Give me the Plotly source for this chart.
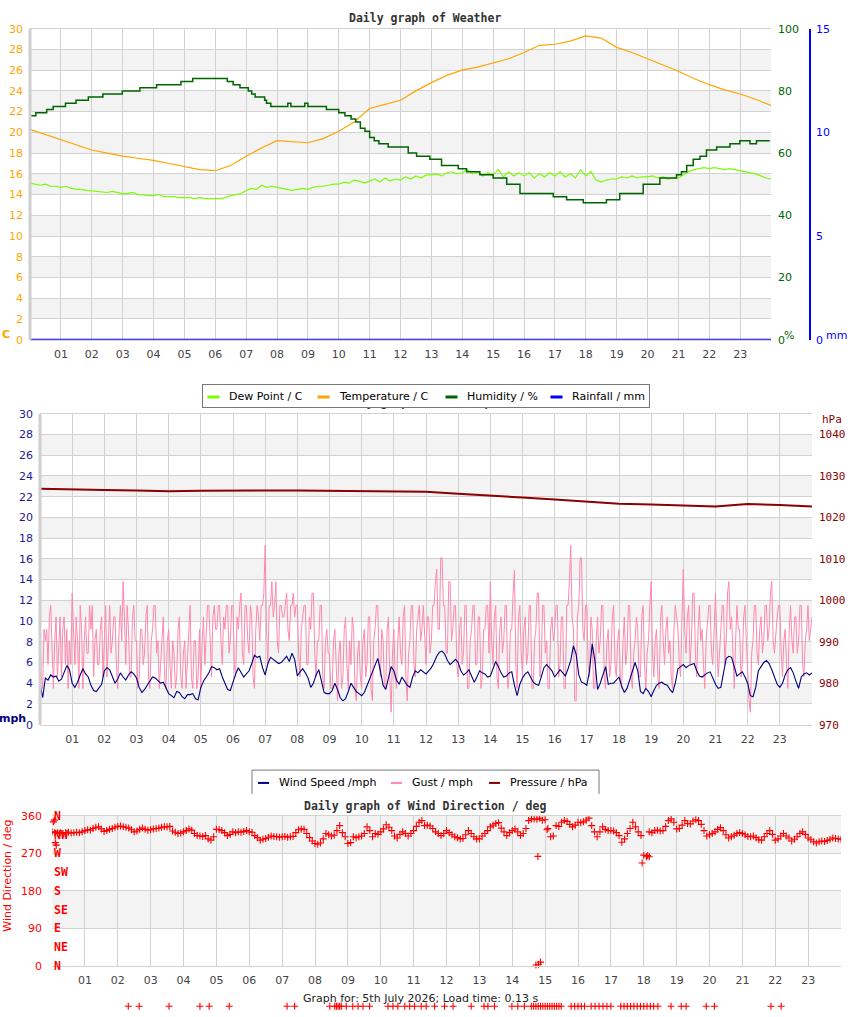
import plotly.graph_objects as go
import numpy as np

W, H = 850, 1017


def px(x):
    return x / W


def py(y):
    return 1 - y / H


# ------------------------------------------------------------------ data
hour_labels = ["%02d" % h for h in range(1, 24)]

# temperature / C, every 30 min from 00:00
temp_c = [20.3, 19.8, 19.3, 18.8, 18.3, 18.0, 17.7, 17.5, 17.3, 17.0, 16.7, 16.4,
          16.3, 16.8, 17.7, 18.5, 19.2, 19.1, 19.0, 19.4, 20.1, 21.0, 22.3, 22.7,
          23.1, 24.0, 24.8, 25.5, 26.0, 26.3, 26.7, 27.1, 27.7, 28.4, 28.5, 28.8,
          29.3, 29.1, 28.2, 27.7, 27.1, 26.5, 25.9, 25.2, 24.6, 24.1, 23.7, 23.2, 22.6]

# dew point / C, every 10 min
dew_c = [15.1, 15.0, 14.9, 15.0, 14.8, 14.8,
         14.7, 14.8, 14.6, 14.5, 14.5, 14.4,
         14.35, 14.3, 14.3, 14.2, 14.3, 14.2,
         14.1, 14.1, 14.2, 14.0, 14.0, 13.9,
         13.9, 14.0, 13.8, 13.8, 13.8, 13.7,
         13.7, 13.7, 13.6, 13.7, 13.6, 13.6,
         13.6, 13.6, 13.7, 13.9, 14.0, 14.1,
         14.4, 14.6, 14.5, 14.9, 14.7, 14.8,
         14.7, 14.6, 14.5, 14.4, 14.5, 14.6,
         14.5, 14.7, 14.8, 14.8, 14.9, 15.0,
         15.0, 15.2, 15.1, 15.4, 15.3, 15.1,
         15.3, 15.5, 15.2, 15.6, 15.3, 15.5,
         15.4, 15.7, 15.5, 15.8, 15.6, 15.9,
         15.9, 16.0, 15.8, 16.1, 16.2, 16.0,
         16.1, 16.4, 16.0, 16.2, 15.8, 16.1,
         15.9, 16.4, 15.7, 16.2, 15.8, 16.1,
         15.8, 16.1, 15.6, 16.0, 15.7, 16.1,
         15.8, 16.2, 15.7, 16.0, 15.6, 16.4,
         15.8, 16.2, 15.4, 15.2, 15.4, 15.5,
         15.5, 15.7, 15.6, 15.8, 15.6, 15.7,
         15.7, 15.8, 15.6, 15.7, 15.5, 15.6,
         15.6, 15.9, 16.2, 16.4, 16.5, 16.6,
         16.5, 16.6, 16.5, 16.4, 16.5, 16.4,
         16.3, 16.2, 16.1, 16.0, 15.8, 15.6,
         15.5]

# humidity / %, step changes
hum_hours = [0, 0.19, 0.54, 0.75, 1.15, 1.49, 1.89, 2.36, 2.99, 3.56,
             4.10, 4.89, 5.27, 6.39, 6.58, 6.80, 7.07, 7.18, 7.29, 7.60,
             7.66, 7.80, 8.35, 8.45, 8.90, 9.00, 9.60, 10.00, 10.20, 10.40,
             10.55, 10.70, 10.85, 11.00, 11.15, 11.30, 11.60, 12.25, 12.52, 12.95,
             13.33, 13.87, 14.14, 14.57, 15.00, 15.44, 15.87, 16.95, 17.38, 17.92,
             18.67, 19.10, 19.86, 20.40, 20.94, 21.10, 21.27, 21.48, 21.70, 21.91,
             22.24, 22.67, 22.99, 23.32, 23.53, 23.96]
hum_pct = [72, 73, 74, 75, 76, 77, 78, 79, 80, 81,
           82, 83, 84, 83, 82, 81, 80, 79, 78, 77,
           76, 75, 76, 75, 76, 75, 74, 73, 72, 71,
           70, 68, 67, 65, 64, 63, 62, 60, 59, 58,
           56, 55, 54, 53, 52, 50, 47, 46, 45, 44,
           45, 47, 50, 52, 53, 54, 56, 58, 59, 61,
           62, 63, 64, 63, 64, 64]

# rainfall / mm, hourly
rain_mm = [0.0, 0.0, 0.0, 0.0, 0.0, 0.0, 0.0, 0.0, 0.0, 0.0, 0.0, 0.0, 0.0,
           0.0, 0.0, 0.0, 0.0, 0.0, 0.0, 0.0, 0.0, 0.0, 0.0, 0.0, 0.0]

# wind speed / mph, every 5 min
wind_mph = [4.0, 2.6, 4.5, 4.3, 4.8, 4.6, 4.7, 4.2, 4.4, 5.0, 5.7, 5.3,
            4.0, 3.6, 4.1, 4.8, 5.4, 4.9, 4.6, 3.8, 3.3, 3.2, 3.5, 3.9,
            5.2, 5.5, 5.3, 4.6, 4.0, 4.4, 5.0, 4.6, 4.3, 4.8, 5.1, 4.9,
            4.5, 3.6, 3.1, 3.4, 3.8, 4.3, 4.6, 4.5, 4.2, 4.0, 4.1, 3.5,
            3.0, 2.8, 2.6, 3.2, 3.1, 2.7, 2.5, 2.9, 2.9, 3.0, 2.5, 2.4,
            3.6, 4.2, 4.6, 5.0, 5.6, 5.5, 5.3, 5.4, 4.6, 4.0, 3.4, 3.3,
            4.2, 4.9, 5.5, 5.0, 4.6, 4.9, 5.2, 5.9, 6.7, 6.5, 6.6, 5.5,
            4.8, 5.9, 6.5, 6.3, 6.1, 5.9, 6.0, 6.3, 6.6, 6.1, 6.9, 6.3,
            4.7, 5.1, 5.4, 5.0, 4.5, 3.6, 4.0, 4.8, 5.3, 4.2, 3.1, 3.0,
            3.0, 3.3, 4.0, 3.4, 2.6, 2.3, 2.5, 3.2, 4.0, 3.6, 3.2, 3.0,
            2.8, 3.1, 3.8, 4.5, 5.0, 5.8, 6.4, 5.2, 3.8, 3.4, 4.4, 5.6,
            5.2, 4.3, 3.9, 4.6, 4.2, 3.8, 3.6, 4.6, 5.2, 5.0, 5.3, 5.1,
            4.9, 5.2, 5.5, 6.0, 6.6, 7.0, 7.1, 6.8, 6.2, 5.8, 6.1, 6.3,
            6.0, 5.2, 4.8, 5.0, 5.3, 4.6, 4.1, 4.6, 5.2, 5.0, 4.9, 4.6,
            4.7, 5.4, 6.1, 5.6, 5.0, 4.6, 4.7, 5.0, 5.1, 3.8, 2.8, 3.9,
            4.5, 4.9, 5.1, 4.6, 4.1, 3.9, 3.8, 4.6, 5.5, 5.8, 5.5, 5.2,
            4.6, 5.0, 5.3, 5.0, 4.7, 5.4, 6.2, 7.6, 6.8, 4.8, 4.1, 4.0,
            3.8, 5.2, 7.8, 6.2, 3.4, 4.0, 4.8, 5.6, 3.9, 4.0, 4.0, 4.3,
            4.6, 3.7, 3.1, 3.5, 4.3, 5.1, 6.0, 5.2, 3.2, 3.0, 3.5, 3.2,
            2.7, 3.3, 3.8, 4.0, 4.1, 3.9, 3.8, 3.4, 3.1, 4.0, 5.4, 5.6,
            5.8, 5.5, 5.7, 5.8, 5.9, 5.2, 4.7, 4.6, 4.8, 5.0, 5.1, 4.4,
            3.9, 3.5, 3.6, 5.0, 6.4, 6.6, 6.5, 5.6, 4.7, 4.9, 5.1, 4.6,
            4.0, 2.8, 2.7, 3.6, 5.2, 5.6, 6.0, 6.2, 5.9, 5.3, 4.6, 3.9,
            3.6, 4.0, 4.8, 5.3, 5.5, 5.0, 4.2, 3.5, 4.6, 4.9, 5.0, 4.8,
            5.0]

# gust / mph, every 2.5 min
gust_mph = [
    9.2, 4.6, 3.5, 9.2, 8.1, 9.2, 5.8, 10.4, 11.5, 6.9, 3.5, 8.1, 10.4, 4.6, 8.1, 10.4, 4.6, 9.2, 10.4, 5.8, 9.2, 3.5, 8.1, 5.8,
    12.7, 9.2, 5.8, 10.4, 8.1, 3.5, 11.5, 9.2, 3.5, 8.1, 10.4, 6.9, 6.9, 11.5, 9.2, 11.5, 4.6, 8.1, 9.2, 5.8, 5.8, 9.2, 10.4, 4.6,
    9.2, 11.5, 4.6, 8.1, 11.5, 6.9, 8.1, 10.4, 10.4, 5.8, 3.5, 9.2, 11.5, 8.1, 13.8, 10.4, 5.8, 11.5, 9.2, 4.6, 4.6, 10.4, 11.5, 8.1,
    8.1, 3.5, 4.6, 9.2, 9.2, 5.8, 6.9, 10.4, 11.5, 4.6, 3.5, 8.1, 9.2, 11.5, 11.5, 6.9, 8.1, 3.5, 5.8, 9.2, 10.4, 4.6, 3.5, 8.1,
    9.2, 5.8, 3.5, 8.1, 6.9, 3.5, 4.6, 9.2, 10.4, 4.6, 3.5, 6.9, 8.1, 3.5, 5.8, 9.2, 11.5, 4.6, 3.5, 8.1, 8.1, 3.5, 4.6, 9.2,
    3.5, 8.1, 10.4, 5.8, 9.2, 11.5, 11.5, 6.9, 4.6, 10.4, 11.5, 9.2, 9.2, 11.5, 11.5, 8.1, 5.8, 10.4, 9.2, 11.5, 11.5, 6.9, 8.1, 11.5,
    11.5, 5.8, 4.6, 10.4, 9.2, 11.5, 12.7, 6.9, 5.8, 11.5, 11.5, 8.1, 6.9, 11.5, 10.4, 4.6, 3.5, 9.2, 11.5, 10.4, 8.1, 11.5, 11.5, 12.7,
    17.3, 9.2, 5.8, 11.5, 11.5, 13.8, 10.4, 11.5, 13.8, 8.1, 6.9, 11.5, 11.5, 10.4, 10.4, 11.5, 12.7, 9.2, 8.1, 11.5, 11.5, 12.7, 10.4, 11.5,
    11.5, 6.9, 4.6, 9.2, 10.4, 11.5, 11.5, 5.8, 5.8, 10.4, 9.2, 12.7, 12.7, 6.9, 4.6, 8.1, 8.1, 11.5, 11.5, 4.6, 3.5, 8.1, 9.2, 6.9,
    6.9, 3.5, 3.5, 8.1, 9.2, 4.6, 2.3, 6.9, 8.1, 3.5, 4.6, 9.2, 10.4, 5.8, 3.5, 8.1, 5.8, 10.4, 9.2, 3.5, 2.3, 6.9, 8.1, 4.6,
    3.5, 8.1, 9.2, 4.6, 5.8, 10.4, 10.4, 3.5, 2.3, 8.1, 9.2, 11.5, 11.5, 5.8, 4.6, 9.2, 8.1, 3.5, 3.5, 9.2, 10.4, 4.6, 1.2, 6.9,
    9.2, 4.6, 3.5, 8.1, 10.4, 6.9, 5.8, 10.4, 11.5, 4.6, 2.3, 6.9, 8.1, 11.5, 11.5, 5.8, 4.6, 9.2, 10.4, 11.5, 8.1, 9.2, 11.5, 8.1,
    5.8, 10.4, 10.4, 6.9, 8.1, 11.5, 11.5, 13.8, 15.0, 9.2, 9.2, 16.1, 16.1, 11.5, 11.5, 6.9, 6.9, 13.8, 13.8, 8.1, 9.2, 11.5, 11.5, 5.8,
    4.6, 9.2, 10.4, 5.8, 6.9, 11.5, 11.5, 3.5, 3.5, 8.1, 9.2, 11.5, 11.5, 5.8, 5.8, 10.4, 10.4, 3.5, 4.6, 9.2, 9.2, 11.5, 11.5, 6.9,
    13.8, 8.1, 5.8, 10.4, 11.5, 4.6, 3.5, 9.2, 10.4, 6.9, 8.1, 11.5, 11.5, 3.5, 4.6, 9.2, 9.2, 12.7, 14.9, 5.8, 3.5, 10.4, 11.5, 6.9,
    4.6, 9.2, 10.4, 5.8, 6.9, 11.5, 11.5, 3.5, 3.5, 8.1, 9.2, 12.7, 12.7, 4.6, 5.8, 11.5, 11.5, 6.9, 8.1, 3.5, 3.5, 9.2, 10.4, 8.1,
    9.2, 11.5, 11.5, 4.6, 5.8, 10.4, 10.4, 3.5, 3.5, 11.5, 11.5, 13.8, 17.3, 10.4, 9.2, 2.3, 2.3, 10.4, 11.5, 16.1, 16.1, 9.2, 8.1, 11.5,
    11.5, 5.8, 4.6, 10.4, 9.2, 3.5, 3.5, 8.1, 10.4, 6.9, 8.1, 11.5, 11.5, 4.6, 3.5, 8.1, 9.2, 4.6, 5.8, 10.4, 11.5, 5.8, 4.6, 8.1,
    9.2, 4.6, 3.5, 8.1, 10.4, 5.8, 6.9, 11.5, 11.5, 4.6, 3.5, 6.9, 8.1, 10.4, 9.2, 4.6, 4.6, 10.4, 11.5, 5.8, 3.5, 6.9, 8.1, 11.5,
    13.8, 6.9, 4.6, 8.1, 9.2, 4.6, 3.5, 10.4, 11.5, 8.1, 5.8, 9.2, 10.4, 6.9, 8.1, 4.6, 3.5, 9.2, 11.5, 10.4, 9.2, 5.8, 4.6, 10.4,
    15.0, 9.2, 6.9, 10.4, 11.5, 5.8, 8.1, 12.7, 12.7, 6.9, 4.6, 9.2, 11.5, 8.1, 9.2, 5.8, 3.5, 8.1, 10.4, 11.5, 11.5, 6.9, 5.8, 10.4,
    12.7, 8.1, 4.6, 6.9, 9.2, 11.5, 11.5, 5.8, 8.1, 12.7, 13.8, 9.2, 10.4, 6.9, 3.5, 8.1, 11.5, 9.2, 9.2, 4.6, 5.8, 10.4, 11.5, 8.1,
    4.6, 2.3, 1.2, 6.9, 8.1, 11.5, 11.5, 6.9, 5.8, 9.2, 10.4, 6.9, 8.1, 11.5, 11.5, 8.1, 9.2, 12.7, 13.8, 8.1, 6.9, 9.2, 10.4, 11.5,
    11.5, 6.9, 4.6, 8.1, 9.2, 5.8, 3.5, 9.2, 11.5, 8.1, 6.9, 10.4, 10.4, 6.9, 8.1, 11.5, 11.5, 5.8, 4.6, 8.1, 9.2, 11.5, 8.1, 9.2,
    10.4]

# pressure / hPa, hourly
pressure_hpa = [1026.9, 1026.7, 1026.6, 1026.5, 1026.3, 1026.4, 1026.5, 1026.5,
                1026.5, 1026.4, 1026.4, 1026.3, 1026.2, 1025.7, 1025.3, 1024.8,
                1024.3, 1023.8, 1023.3, 1023.1, 1022.9, 1022.6, 1023.2, 1023.0, 1022.6]

# wind direction / deg, every 5 min
wdir_deg = [322, 320, 319, 320, 318, 320, 321, 319, 320, 321, 320, 322,
            325, 327, 326, 330, 333, 334, 329, 323, 325, 328, 330, 333,
            335, 336, 334, 333, 331, 327, 322, 324, 328, 331, 328, 326,
            327, 329, 330, 331, 333, 334, 334, 335, 324, 321, 318, 319,
            322, 325, 329, 326, 318, 313, 312, 311, 313, 305, 302, 310,
            328, 327, 325, 320, 313, 316, 322, 320, 322, 321, 323, 325,
            322, 321, 313, 308, 302, 304, 306, 309, 312, 311, 310, 309,
            310, 311, 309, 310, 311, 320, 327, 329, 328, 318, 308, 300,
            294, 292, 295, 305, 318, 315, 312, 314, 325, 337, 320, 310,
            294, 296, 310, 308, 310, 312, 318, 334, 325, 310, 318, 316,
            322, 329, 339, 333, 325, 312, 307, 316, 322, 318, 312, 318,
            325, 335, 345, 349, 337, 338, 336, 330, 322, 318, 313, 318,
            325, 320, 315, 310, 308, 305, 306, 315, 325, 318, 310, 305,
            305, 312, 318, 325, 334, 338, 342, 344, 331, 322, 313, 320,
            325, 329, 322, 313, 318, 330, 349, 353, 353, 352, 355, 350,
            351, 330, 310, 312, 337, 335, 345, 349, 347, 340, 334, 338,
            345, 344, 346, 350, 355, 337, 322, 310, 322, 334, 328, 325,
            325, 324, 320, 313, 297, 305, 318, 330, 345, 334, 322, 313,
            266, 262, 322, 320, 325, 326, 324, 325, 335, 349, 353, 345,
            329, 330, 338, 349, 342, 341, 348, 351, 349, 340, 325, 312,
            315, 318, 322, 328, 332, 325, 315, 307, 310, 314, 318, 320,
            318, 315, 311, 310, 312, 308, 303, 302, 310, 318, 325, 316,
            302, 305, 312, 318, 312, 307, 300, 304, 310, 318, 322, 316,
            307, 303, 298, 295, 298, 300, 299, 301, 304, 307, 306, 305,
            304]

# isolated direction readings
wdir_extra_hours = [0.04, 0.07, 0.10, 0.13, 14.72, 14.80, 14.86, 14.78, 15.06, 17.95, 18.12, 18.17]
wdir_extra_deg = [346, 350, 296, 290, 2, 4, 9, 263, 327, 247, 265, 262]

# readings drawn under the direction chart
stray_hours = [2.32, 2.65, 3.56, 4.50, 4.78, 5.39, 7.15, 7.38, 8.45, 8.60, 8.65, 8.70,
               8.75, 8.80, 8.95, 9.15, 9.31, 9.46, 9.66, 10.22, 10.37, 10.52, 10.73,
               10.88, 11.03, 11.23, 11.38, 11.64, 11.94, 12.20, 12.75, 13.14, 13.26,
               13.46, 13.99, 14.17, 14.37, 14.58, 14.65, 14.72, 14.79, 14.86, 14.93,
               15.00, 15.07, 15.14, 15.21, 15.28, 15.35, 15.42, 15.49, 15.79, 15.90,
               16.00, 16.10, 16.20, 16.40, 16.52, 16.64, 16.76, 16.88, 17.00, 17.30,
               17.40, 17.50, 17.60, 17.70, 17.80, 17.90, 18.00, 18.10, 18.20, 18.30,
               18.43, 18.83, 19.14, 19.29, 19.90, 20.15, 21.87, 22.18]
stray_deg = [-97] * len(stray_hours)

compass_deg = [0, 45, 90, 135, 180, 225, 270, 315, 360]
compass_lbl = ["N", "NE", "E", "SE", "S", "SW", "W", "NW", "N"]


def hours(arr):
    return np.linspace(0, 24, len(arr))


# ------------------------------------------------------------------ style
SANS = "DejaVu Sans"
MONO = "DejaVu Sans Mono"
GRID = "#d2d2d2"
BAND = "#f3f3f3"
C_DEW = "#7CFC00"
C_TEMP = "#FFA500"
C_HUM = "#006400"
C_RAIN = "#0000FF"
C_WIND = "#000080"
C_GUST = "#ff88ac"
C_PRES = "#8B0000"
C_DIR = "#FF0000"

fig = go.Figure()

# panel 1
fig.add_trace(go.Scatter(x=hours(dew_c), y=dew_c, mode="lines", line=dict(color=C_DEW, width=1.2),
                         xaxis="x", yaxis="y", showlegend=False))
fig.add_trace(go.Scatter(x=hours(temp_c), y=temp_c, mode="lines", line=dict(color=C_TEMP, width=1.2),
                         xaxis="x", yaxis="y", showlegend=False))
fig.add_trace(go.Scatter(x=hum_hours, y=hum_pct, mode="lines", line=dict(color=C_HUM, width=1.5, shape="hv"),
                         xaxis="x", yaxis="y2", showlegend=False))
fig.add_trace(go.Scatter(x=hours(rain_mm), y=rain_mm, mode="lines", line=dict(color=C_RAIN, width=2),
                         xaxis="x", yaxis="y3", showlegend=False))

# panel 2
fig.add_trace(go.Scatter(x=hours(gust_mph), y=gust_mph, mode="lines", line=dict(color=C_GUST, width=1),
                         xaxis="x2", yaxis="y4", showlegend=False))
fig.add_trace(go.Scatter(x=hours(wind_mph), y=wind_mph, mode="lines", line=dict(color=C_WIND, width=1.1),
                         xaxis="x2", yaxis="y4", showlegend=False))
fig.add_trace(go.Scatter(x=hours(pressure_hpa), y=pressure_hpa, mode="lines", line=dict(color=C_PRES, width=2),
                         xaxis="x2", yaxis="y5", showlegend=False))

# panel 3
mk = dict(symbol="cross-thin", size=5, color=C_DIR, line=dict(color=C_DIR, width=1.1))
fig.add_trace(go.Scatter(x=hours(wdir_deg), y=wdir_deg, mode="markers", marker=mk,
                         xaxis="x3", yaxis="y6", showlegend=False))
fig.add_trace(go.Scatter(x=wdir_extra_hours, y=wdir_extra_deg, mode="markers", marker=mk,
                         xaxis="x3", yaxis="y6", showlegend=False, cliponaxis=False))
fig.add_trace(go.Scatter(x=stray_hours, y=stray_deg, mode="markers", marker=mk,
                         xaxis="x4", yaxis="y7", showlegend=False, cliponaxis=False))


def xax(dom, anchor):
    return dict(domain=dom, range=[0, 24], anchor=anchor, tickmode="array",
                tickvals=list(range(1, 24)), ticktext=hour_labels, ticks="",
                tickfont=dict(family=SANS, size=11, color="#444"),
                showgrid=True, gridcolor=GRID, gridwidth=1, zeroline=False,
                showline=True, mirror=True, linecolor=GRID, linewidth=1,
                ticklabelstandoff=4, fixedrange=True)


def yax(dom, rng, step, color, anchor, grid=True, font=SANS):
    return dict(domain=dom, range=rng, anchor=anchor, tickmode="linear", tick0=rng[0], dtick=step,
                ticks="", tickfont=dict(family=font, size=11, color=color),
                showgrid=grid, gridcolor=GRID, gridwidth=1, zeroline=False,
                showline=False, ticklabelstandoff=6)


d1y = [py(338), py(23)]
d2y = [py(728), py(413)]
d3y = [py(972.3), py(820.5)]
deg_px = (972.3 - 820.5) / 360.0

layout = dict(
    width=W, height=H, margin=dict(l=0, r=0, t=0, b=0),
    paper_bgcolor="white", plot_bgcolor="white", showlegend=False,
    xaxis=xax([px(30), px(771)], "y"),
    yaxis=yax(d1y, [0, 30], 2, C_TEMP, "x"),
    yaxis2=dict(yax(d1y, [0, 100], 20, C_HUM, "x", grid=False), overlaying="y", side="right"),
    yaxis3=dict(yax(d1y, [0, 15], 5, C_RAIN, "free", grid=False), overlaying="y", side="right",
                position=px(810), showline=True, linecolor=C_RAIN, linewidth=1.5, ticklabelstandoff=3),
    xaxis2=xax([px(40), px(812)], "y4"),
    yaxis4=yax(d2y, [0, 30], 2, "#1c1c8c", "x2"),
    yaxis5=dict(yax(d2y, [970, 1045], 10, C_PRES, "x2", grid=False, font=MONO), overlaying="y4",
                side="right", tickvals=[970, 980, 990, 1000, 1010, 1020, 1030, 1040], tickmode="array"),
    xaxis3=xax([px(52), px(841)], "y6"),
    yaxis6=yax(d3y, [0, 360], 90, C_DIR, "x3"),
    # hidden strip under the direction chart, same hour and degree scales
    xaxis4=dict(domain=[px(52), px(841)], range=[0, 24], anchor="y7", visible=False,
                showgrid=False, zeroline=False),
    yaxis7=dict(domain=[0, py(972.3)], range=[-(H - 972.3) / deg_px, 0], anchor="x4",
                visible=False, showgrid=False, zeroline=False),
)
layout["yaxis6"]["ticklabelstandoff"] = 9

shapes = []
for xr, yr, bands in [("x", "y", [(v, v + 2) for v in range(2, 30, 4)]),
                      ("x2", "y4", [(v, v + 2) for v in range(2, 30, 4)]),
                      ("x3", "y6", [(90, 180), (270, 360)])]:
    for lo, hi in bands:
        shapes.append(dict(type="rect", xref=xr + " domain", x0=0, x1=1, yref=yr, y0=lo, y1=hi,
                           fillcolor=BAND, line=dict(width=0), layer="below"))
# thicker left edges of the first two plots
for xr, yr in [("x", "y"), ("x2", "y4")]:
    shapes.append(dict(type="line", xref=xr + " domain", x0=0, x1=0, yref=yr + " domain", y0=0, y1=1,
                       line=dict(color="#cfcfcf", width=3), layer="above"))

annotations = []


def txt(x, y, s, color="#000", size=11, family=SANS, xanchor="center", yanchor="middle", **kw):
    annotations.append(dict(x=px(x), y=py(y), xref="paper", yref="paper", text=s, showarrow=False,
                            font=dict(family=family, size=size, color=color),
                            xanchor=xanchor, yanchor=yanchor, **kw))


# titles
txt(425, 12, "<b>Daily graph of Weather</b>", color="#333", size=11.5, family=MONO)
txt(425, 401, "<b>Daily graph of Wind Speed</b>", color="#333", size=11.5, family=MONO)
txt(425, 810, "<b>Daily graph of Wind Direction / deg</b>", color="#333", size=11.5, family=MONO)

# legend 1 (box drawn as annotation so it hides the title behind it)
annotations.append(dict(x=px(425.5), y=py(395.5), xref="paper", yref="paper", text=" ", showarrow=False,
                        width=446, height=22, bgcolor="white", bordercolor="#777", borderwidth=1,
                        borderpad=0, xanchor="center", yanchor="middle", font=dict(size=1)))
for x0, col, lab in [(207, C_DEW, "Dew Point / C"), (317, C_TEMP, "Temperature / C"),
                     (445, C_HUM, "Humidity / %"), (550, C_RAIN, "Rainfall / mm")]:
    annotations.append(dict(x=px(x0), y=py(396), xref="paper", yref="paper", text=" ", showarrow=False,
                            width=11, height=2, bgcolor=col, borderpad=0, xanchor="left",
                            yanchor="middle", font=dict(size=1)))
    txt(x0 + 20, 396, lab, size=11, xanchor="left")

# legend 2
shapes.append(dict(type="path", xref="paper", yref="paper",
                   path="M %f %f L %f %f L %f %f L %f %f" % (px(252), py(798), px(252), py(774),
                                                             px(599), py(774), px(599), py(798)),
                   line=dict(color="#777", width=1)))
for x0, col, lab in [(258, C_WIND, "Wind Speed /mph"), (391, C_GUST, "Gust / mph"),
                     (489, C_PRES, "Pressure / hPa")]:
    shapes.append(dict(type="line", xref="paper", yref="paper", x0=px(x0), x1=px(x0 + 11),
                       y0=py(787), y1=py(787), line=dict(color=col, width=2)))
    txt(x0 + 19, 786.5, lab, size=11, xanchor="left")

# unit labels
txt(6, 333, "<b>C</b>", color=C_TEMP, size=11)
txt(789, 334, "%", color=C_HUM, size=11)
txt(836, 334, "mm", color=C_RAIN, size=11)
txt(12, 722, "<b>mph</b>", color=C_WIND, size=11)
txt(832, 419, "hPa", color=C_PRES, size=11, family=MONO)

# wind direction axis title and compass labels
annotations.append(dict(x=px(8), y=py(881), xref="paper", yref="paper", text="Wind Direction / deg",
                        showarrow=False, textangle=-90, font=dict(family=SANS, size=11, color=C_DIR),
                        xanchor="center", yanchor="middle"))
for d, lab in zip(compass_deg, compass_lbl):
    annotations.append(dict(x=px(52), y=d, xref="paper", yref="y6", text="<b>%s</b>" % lab,
                            showarrow=False, font=dict(family=MONO, size=11.5, color=C_DIR),
                            xanchor="left", yanchor="middle"))

txt(421, 1005, "Graph for: 5th July 2026; Load time: 0.13 s", size=11, color="#222")

layout["shapes"] = shapes
layout["annotations"] = annotations
fig.update_layout(**layout)

fig.write_html("out.html")
